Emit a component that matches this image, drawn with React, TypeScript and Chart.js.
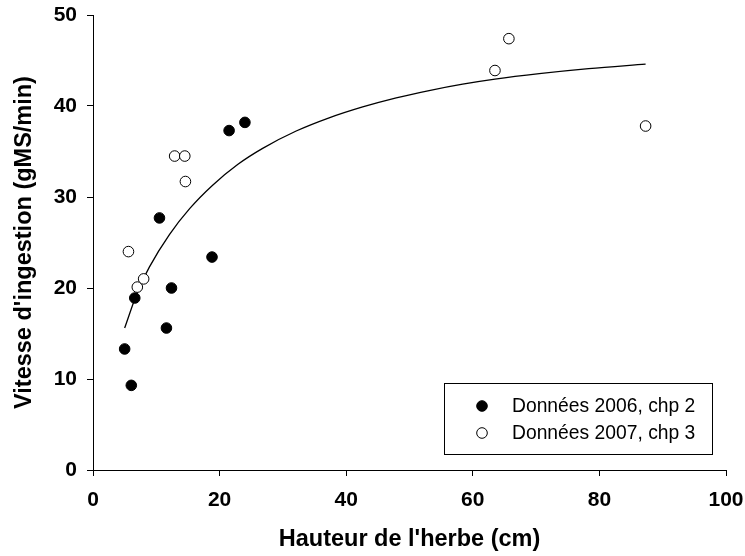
import React, { useEffect, useRef } from "react";
import { Chart, registerables } from "chart.js";

Chart.register(...registerables);

// Données 2006, chp 2
const hauteur2006 = [5.0, 6.05, 6.6, 10.5, 11.6, 12.4, 18.8, 21.5, 24.0];
const vitesse2006 = [13.3, 9.3, 18.9, 27.7, 15.6, 20.0, 23.4, 37.3, 38.2];
// Données 2007, chp 3
const hauteur2007 = [5.6, 7.0, 8.0, 12.9, 14.5, 14.6, 63.5, 65.7, 87.3];
const vitesse2007 = [24.0, 20.1, 21.0, 34.5, 34.5, 31.7, 43.9, 47.4, 37.8];
// Fitted curve
const courbeX = [5.0, 7.1, 8.9, 12.1, 15.3, 18.9, 22.9, 26.8, 32.1, 37.3, 42.6, 47.9, 53.1, 58.4, 63.5, 70.5, 78.3, 87.3];
const courbeY = [15.6, 19.7, 22.3, 25.9, 28.75, 31.3, 33.6, 35.35, 37.25, 38.7, 39.9, 40.9, 41.7, 42.4, 42.95, 43.55, 44.1, 44.6];

const xTicks = [0, 20, 40, 60, 80, 100];
const yTicks = [0, 10, 20, 30, 40, 50];

const labels2006 = "Données 2006, chp 2";
const labels2007 = "Données 2007, chp 3";
const xTitle = "Hauteur de l'herbe (cm)";
const yTitle = "Vitesse d'ingestion (gMS/min)";

const FONT = "'Liberation Sans', Arial, Helvetica, sans-serif";

const legendPlugin = {
  id: "boxLegend",
  afterDatasetsDraw(chart: any) {
    const { ctx, chartArea } = chart;
    const w = 268;
    const h = 71;
    const x = chartArea.right - 14 - w;
    const y = chartArea.bottom - 16 - h;
    ctx.save();
    ctx.fillStyle = "#ffffff";
    ctx.fillRect(x, y, w, h);
    ctx.strokeStyle = "#000000";
    ctx.lineWidth = 1;
    ctx.strokeRect(Math.round(x) + 0.5, Math.round(y) + 0.5, w, h);
    const items = chart.data.datasets.filter((d: any) => d.showInLegend);
    items.forEach((d: any, i: number) => {
      const cy = y + 23 + i * 27;
      const cx = x + 38;
      ctx.beginPath();
      ctx.arc(cx, cy, 5.3, 0, Math.PI * 2);
      ctx.fillStyle = d.backgroundColor;
      ctx.fill();
      ctx.lineWidth = 1;
      ctx.strokeStyle = "#000000";
      ctx.stroke();
      ctx.fillStyle = "#000000";
      ctx.font = `19.3px ${FONT}`;
      ctx.textAlign = "left";
      ctx.textBaseline = "middle";
      ctx.fillText(d.label, x + 68, cy + 1);
    });
    ctx.restore();
  },
};

const zeroPadding = (s: any) => {
  s.paddingTop = 0;
  s.paddingBottom = 0;
  s.paddingLeft = 0;
  s.paddingRight = 0;
};

export default function App() {
  const ref = useRef<HTMLCanvasElement | null>(null);

  useEffect(() => {
    document.body.style.margin = "0";
    if (!ref.current) return;
    const chart = new Chart(ref.current, {
      type: "scatter",
      data: {
        datasets: [
          {
            type: "line",
            label: "courbe",
            data: courbeX.map((x, i) => ({ x, y: courbeY[i] })),
            borderColor: "#000000",
            borderWidth: 1.3,
            pointRadius: 0,
            fill: false,
            cubicInterpolationMode: "monotone",
            order: 3,
          } as any,
          {
            label: labels2006,
            data: hauteur2006.map((x, i) => ({ x, y: vitesse2006[i] })),
            backgroundColor: "#000000",
            borderColor: "#000000",
            borderWidth: 1,
            pointRadius: 5.3,
            showInLegend: true,
            order: 2,
          } as any,
          {
            label: labels2007,
            data: hauteur2007.map((x, i) => ({ x, y: vitesse2007[i] })),
            backgroundColor: "#ffffff",
            borderColor: "#000000",
            borderWidth: 1,
            pointRadius: 5.3,
            showInLegend: true,
            order: 1,
          } as any,
        ],
      },
      options: {
        responsive: false,
        animation: false,
        devicePixelRatio: 1,
        layout: { padding: { left: 0, right: 19, top: 15, bottom: 0 } },
        plugins: { legend: { display: false }, tooltip: { enabled: false } },
        scales: {
          x: {
            type: "linear",
            min: 0,
            max: 100,
            afterBuildTicks: (s: any) => {
              s.ticks = xTicks.map((v) => ({ value: v }));
            },
            afterFit: (s: any) => {
              s.height = 86;
              zeroPadding(s);
            },
            grid: { display: true, drawOnChartArea: false, drawTicks: true, tickLength: 6, color: "#000000", lineWidth: 1 },
            border: { display: true, color: "#000000", width: 1 },
            ticks: { color: "#000000", font: { family: FONT, size: 21, weight: "bold" }, padding: 12, maxRotation: 0 },
            title: {
              display: true,
              text: xTitle,
              color: "#000000",
              font: { family: FONT, size: 23.5, weight: "bold" },
              padding: { top: 0, bottom: 2 },
            },
          },
          y: {
            type: "linear",
            min: 0,
            max: 50,
            afterBuildTicks: (s: any) => {
              s.ticks = yTicks.map((v) => ({ value: v }));
            },
            afterFit: (s: any) => {
              s.width = 93;
              zeroPadding(s);
            },
            grid: { display: true, drawOnChartArea: false, drawTicks: true, tickLength: 6, color: "#000000", lineWidth: 1 },
            border: { display: true, color: "#000000", width: 1 },
            ticks: { color: "#000000", font: { family: FONT, size: 21, weight: "bold" }, padding: 10 },
            title: {
              display: true,
              text: yTitle,
              color: "#000000",
              font: { family: FONT, size: 23.5, weight: "bold" },
              padding: { top: 10, bottom: 0 },
            },
          },
        },
      },
      plugins: [legendPlugin],
    } as any);
    return () => chart.destroy();
  }, []);

  return (
    <div style={{ position: "fixed", left: 0, top: 0, width: 745, height: 556, background: "#ffffff" }}>
      <canvas ref={ref} width={745} height={556} style={{ width: 745, height: 556 }} />
    </div>
  );
}
